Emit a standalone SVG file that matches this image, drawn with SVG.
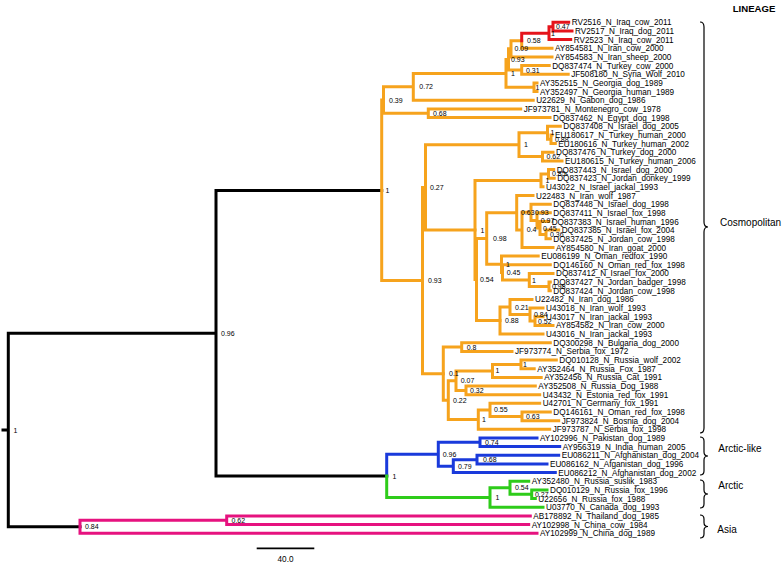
<svg xmlns="http://www.w3.org/2000/svg" width="784" height="566" viewBox="0 0 784 566">
<style>
.t{font-family:"Liberation Sans",Arial,sans-serif;font-size:8.2px;fill:#000}
.s{font-family:"Liberation Sans",Arial,sans-serif;font-size:7px;fill:#000}
.lin{font-family:"Liberation Sans",Arial,sans-serif;font-size:10px;fill:#000}
.hd{font-family:"Liberation Sans",Arial,sans-serif;font-size:9.6px;font-weight:bold;fill:#000}
#connectors path{fill:none;stroke-width:3;stroke-linecap:square}
.k{stroke:#000}.o{stroke:#F6A31D}.r{stroke:#E5141B}.b{stroke:#1A3ADB}.g{stroke:#2ECC1A}.m{stroke:#E6127F}
.br{fill:none;stroke:#000;stroke-width:1.2}
</style>
<rect width="784" height="566" fill="#fff"/>
<g id="connectors">
<path class="k" d="M3,430H8.3M8.3,333.2V526.8M8.3,333.2H216M8.3,526.8H80M216,190.4V476M216,190.4H381.7M216,476H386.7"/>
<path class="m" d="M80,520.3V533.2M80,520.3H226.7M80,533.2H537M226.7,515.9V524.6M226.7,515.9H530.3M226.7,524.6H528.7"/>
<path class="b" d="M386.7,454.3V476M386.7,454.3H438.3M438.3,442.3V466.2M438.3,442.3H480M438.3,466.2H453.3M480,438V446.6M480,438H537M480,446.6H559.7M453.3,459.7V472.6M453.3,459.7H477M453.3,472.6H555.3M477,455.3V464M477,455.3H558.7M477,464H547"/>
<path class="g" d="M386.7,476V497.6M386.7,497.6H490M490,487.8V507.3M490,487.8H510M490,507.3H543M510,481.3V494.3M510,481.3H528.7M510,494.3H531.7M531.7,489.9V498.6M531.7,489.9H547M531.7,498.6H535.3"/>
<path class="o" d="M381.7,100.1V280.6M381.7,100.1H383.5M381.7,280.6H422.5M383.5,86.8V113.3M383.5,86.8H413.3M383.5,113.3H428.3M413.3,73.4V100.2M413.3,73.4H506M413.3,100.2H533.2M428.3,108.9V117.6M428.3,108.9H520.7M428.3,117.6H550M506,59.4V87.3M506,59.4H508.5M506,87.3H534M508.5,48.8V70M508.5,48.8H511M508.5,70H521.7M511,40.7V56.9M511,40.7H521.7M511,56.9H552M521.7,40.7V48.3M521.7,48.3H552M521.7,65.6V74.3M521.7,65.6H549.2M521.7,74.3H568.2M534,82.9V91.6M534,82.9H537M534,91.6H537"/>
<path class="o" d="M422.5,187.4V373.7M422.5,187.4H425.5M422.5,373.7H443.3M425.5,144.7V230M425.5,144.7H519M425.5,230H475M519,132.7V156.6M519,132.7H547.5M519,156.6H542.5M547.5,126.2V139.2M547.5,126.2H560.3M547.5,139.2H551M551,134.9V143.5M551,134.9H552M551,143.5H555.3M542.5,152.2V160.9M542.5,152.2H553M542.5,160.9H562"/>
<path class="o" d="M475,180.4V279.6M475,180.4H541M475,279.6H476.5M541,173.9V186.8M541,173.9H548.5M541,186.8H543M548.5,169.5V178.2M548.5,169.5H553.7M548.5,178.2H554.2M476.5,238.5V320.6M476.5,238.5H486.7M476.5,320.6H500M486.7,212.7V264.3M486.7,212.7H516.7M486.7,264.3H501.5M516.7,195.5V229.9M516.7,195.5H533M516.7,229.9H522M522,212.3V247.5M522,212.3H531M522,247.5H553M531,204.2V220.4M531,204.2H550.3M531,220.4H537M537,212.8V228M537,212.8H550.3M537,228H540M540,221.5V234.5M540,221.5H548.7M540,234.5H546M546,230.1V238.8M546,230.1H558.7M546,238.8H550.3"/>
<path class="o" d="M501.5,256.1V272.4M501.5,256.1H538.2M501.5,272.4H502.5M502.5,264.8V280M502.5,264.8H550.3M502.5,280H529.3M529.3,273.4V286.5M529.3,273.4H553M529.3,286.5H549M549,282.1V290.8M549,282.1H550.3M549,290.8H550.3M500,307V334.1M500,307H510M500,334.1H543M510,299.4V314.6M510,299.4H532M510,314.6H530M530,308.1V321.1M530,308.1H543M530,321.1H535M535,316.7V325.4M535,316.7H543M535,325.4H553"/>
<path class="o" d="M443.3,347.1V400.2M443.3,347.1H461.7M443.3,400.2H448.3M461.7,342.7V351.4M461.7,342.7H550.3M461.7,351.4H512M448.3,380.7V419.6M448.3,380.7H456M448.3,419.6H478.3M456,370.9V390.4M456,370.9H492.5M456,390.4H466M492.5,364.4V377.4M492.5,364.4H521M492.5,377.4H541.2M521,360V368.7M521,360H556.3M521,368.7H534.2M466,386V394.7M466,386H535.3M466,394.7H539.7M478.3,409.9V429.3M478.3,409.9H490M478.3,429.3H549.7M490,403.3V416.4M490,403.3H539.7M490,416.4H522M522,412V420.7M522,412H550.3M522,420.7H558.7"/>
<path class="r" d="M521.7,33.2V40.7M521.7,33.2H549M549,26.7V39.6M549,26.7H553M549,39.6H570.7M553,22.3V31M553,22.3H568.7M553,31H572"/>
</g>
<g id="tips">
<g id="tip01"><text class="t" x="571.7" y="25.3">RV2516_N_Iraq_cow_2011</text></g>
<g id="tip02"><text class="t" x="575" y="34">RV2517_N_Iraq_dog_2011</text></g>
<g id="tip03"><text class="t" x="573.7" y="42.6">RV2523_N_Iraq_cow_2011</text></g>
<g id="tip04"><text class="t" x="555" y="51.3">AY854581_N_Iran_cow_2000</text></g>
<g id="tip05"><text class="t" x="555" y="59.9">AY854583_N_Iran_sheep_2000</text></g>
<g id="tip06"><text class="t" x="552.2" y="68.6">DQ837474_N_Turkey_cow_2000</text></g>
<g id="tip07"><text class="t" x="571.2" y="77.3">JF508180_N_Syria_Wolf_2010</text></g>
<g id="tip08"><text class="t" x="540" y="85.9">AY352515_N_Georgia_dog_1989</text></g>
<g id="tip09"><text class="t" x="540" y="94.6">AY352497_N_Georgia_human_1989</text></g>
<g id="tip10"><text class="t" x="536.2" y="103.2">U22629_N_Gabon_dog_1986</text></g>
<g id="tip11"><text class="t" x="523.7" y="111.9">JF973781_N_Montenegro_cow_1978</text></g>
<g id="tip12"><text class="t" x="553" y="120.6">DQ837462_N_Egypt_dog_1998</text></g>
<g id="tip13"><text class="t" x="563.3" y="129.2">DQ837408_N_Israel_dog_2005</text></g>
<g id="tip14"><text class="t" x="555" y="137.9">EU180617_N_Turkey_human_2000</text></g>
<g id="tip15"><text class="t" x="558.3" y="146.5">EU180616_N_Turkey_human_2002</text></g>
<g id="tip16"><text class="t" x="556" y="155.2">DQ837476_N_Turkey_dog_2000</text></g>
<g id="tip17"><text class="t" x="565" y="163.9">EU180615_N_Turkey_human_2006</text></g>
<g id="tip18"><text class="t" x="556.7" y="172.5">DQ837443_N_Israel_dog_2000</text></g>
<g id="tip19"><text class="t" x="557.2" y="181.2">DQ837423_N_Jordan_donkey_1999</text></g>
<g id="tip20"><text class="t" x="546" y="189.8">U43022_N_Israel_jackal_1993</text></g>
<g id="tip21"><text class="t" x="536" y="198.5">U22483_N_Iran_wolf_1987</text></g>
<g id="tip22"><text class="t" x="553.3" y="207.2">DQ837448_N_Israel_dog_1998</text></g>
<g id="tip23"><text class="t" x="553.3" y="215.8">DQ837411_N_Israel_fox_1998</text></g>
<g id="tip24"><text class="t" x="551.7" y="224.5">DQ837383_N_Israel_human_1996</text></g>
<g id="tip25"><text class="t" x="561.7" y="233.1">DQ837385_N_Israel_fox_2004</text></g>
<g id="tip26"><text class="t" x="553.3" y="241.8">DQ837425_N_Jordan_cow_1998</text></g>
<g id="tip27"><text class="t" x="556" y="250.5">AY854580_N_Iran_goat_2000</text></g>
<g id="tip28"><text class="t" x="541.2" y="259.1">EU086199_N_Oman_redfox_1990</text></g>
<g id="tip29"><text class="t" x="553.3" y="267.8">DQ146160_N_Oman_red_fox_1998</text></g>
<g id="tip30"><text class="t" x="556" y="276.4">DQ837412_N_Israel_fox_2000</text></g>
<g id="tip31"><text class="t" x="553.3" y="285.1">DQ837427_N_Jordan_badger_1998</text></g>
<g id="tip32"><text class="t" x="553.3" y="293.8">DQ837424_N_Jordan_cow_1998</text></g>
<g id="tip33"><text class="t" x="535" y="302.4">U22482_N_Iran_dog_1986</text></g>
<g id="tip34"><text class="t" x="546" y="311.1">U43018_N_Iran_wolf_1993</text></g>
<g id="tip35"><text class="t" x="546" y="319.7">U43017_N_Iran_jackal_1993</text></g>
<g id="tip36"><text class="t" x="556" y="328.4">AY854582_N_Iran_cow_2000</text></g>
<g id="tip37"><text class="t" x="546" y="337.1">U43016_N_Iran_jackal_1993</text></g>
<g id="tip38"><text class="t" x="553.3" y="345.7">DQ300298_N_Bulgaria_dog_2000</text></g>
<g id="tip39"><text class="t" x="515" y="354.4">JF973774_N_Serbia_fox_1972</text></g>
<g id="tip40"><text class="t" x="559.3" y="363">DQ010128_N_Russia_wolf_2002</text></g>
<g id="tip41"><text class="t" x="537.2" y="371.7">AY352464_N_Russia_Fox_1987</text></g>
<g id="tip42"><text class="t" x="544.2" y="380.4">AY352456_N_Russia_Cat_1991</text></g>
<g id="tip43"><text class="t" x="538.3" y="389">AY352508_N_Russia_Dog_1988</text></g>
<g id="tip44"><text class="t" x="542.7" y="397.7">U43432_N_Estonia_red_fox_1991</text></g>
<g id="tip45"><text class="t" x="542.7" y="406.3">U42701_N_Germany_fox_1991</text></g>
<g id="tip46"><text class="t" x="553.3" y="415">DQ146161_N_Oman_red_fox_1998</text></g>
<g id="tip47"><text class="t" x="561.7" y="423.7">JF973824_N_Bosnia_dog_2004</text></g>
<g id="tip48"><text class="t" x="552.7" y="432.3">JF973787_N_Serbia_fox_1998</text></g>
<g id="tip49"><text class="t" x="540" y="441">AY102996_N_Pakistan_dog_1989</text></g>
<g id="tip50"><text class="t" x="562.7" y="449.6">AY956319_N_India_human_2005</text></g>
<g id="tip51"><text class="t" x="561.7" y="458.3">EU086211_N_Afghanistan_dog_2004</text></g>
<g id="tip52"><text class="t" x="550" y="467">EU086162_N_Afganistan_dog_1996</text></g>
<g id="tip53"><text class="t" x="558.3" y="475.6">EU086212_N_Afghanistan_dog_2002</text></g>
<g id="tip54"><text class="t" x="531.7" y="484.3">AY352480_N_Russia_suslik_1983</text></g>
<g id="tip55"><text class="t" x="550" y="492.9">DQ010129_N_Russia_fox_1996</text></g>
<g id="tip56"><text class="t" x="538.3" y="501.6">U22656_N_Russia_fox_1988</text></g>
<g id="tip57"><text class="t" x="546" y="510.3">U03770_N_Canada_dog_1993</text></g>
<g id="tip58"><text class="t" x="533.3" y="518.9">AB178892_N_Thailand_dog_1985</text></g>
<g id="tip59"><text class="t" x="531.7" y="527.6">AY102998_N_China_cow_1984</text></g>
<g id="tip60"><text class="t" x="540" y="536.2">AY102999_N_China_dog_1989</text></g>
</g>
<g id="internal-nodes">
<g id="n-root"><text class="s" x="13.5" y="432.5">1</text></g>
<g id="n-ca"><text class="s" x="221" y="335.7">0.96</text></g>
<g id="n-as"><text class="s" x="85" y="529.3">0.84</text></g>
<g id="n-as2"><text class="s" x="231.5" y="522.8">0.62</text></g>
<g id="n-q"><text class="s" x="385.5" y="192.9">1</text></g>
<g id="n-s"><text class="s" x="389" y="102.6">0.39</text></g>
<g id="n-t"><text class="s" x="419.3" y="89.3">0.72</text></g>
<g id="n-u"><text class="s" x="511" y="75.9">1</text></g>
<g id="n-v"><text class="s" x="511" y="61.9">0.93</text></g>
<g id="n-w"><text class="s" x="514.5" y="51.3">0.09</text></g>
<g id="n-z"><text class="s" x="527" y="43.2">0.58</text></g>
<g id="n-y"><text class="s" x="551" y="35.7">1</text></g>
<g id="n-x"><text class="s" x="556" y="29.2">0.47</text></g>
<g id="n-d"><text class="s" x="526" y="72.5">0.31</text></g>
<g id="n-gn"><text class="s" x="535.5" y="89.8">1</text></g>
<g id="n-r"><text class="s" x="433" y="115.8">0.68</text></g>
<g id="n-p"><text class="s" x="428" y="283.1">0.93</text></g>
<g id="n-o"><text class="s" x="430" y="189.9">0.27</text></g>
<g id="n-m1"><text class="s" x="524" y="147.2">1</text></g>
<g id="n-a1"><text class="s" x="550.5" y="135.2">1</text></g>
<g id="n-a2"><text class="s" x="555" y="141.7">0.88</text></g>
<g id="n-b1"><text class="s" x="546.5" y="159.1">0.62</text></g>
<g id="n-j"><text class="s" x="480.5" y="232.5">1</text></g>
<g id="n-k2"><text class="s" x="545.5" y="182.9">1</text></g>
<g id="n-k1"><text class="s" x="552" y="176.4">0.85</text></g>
<g id="n-g"><text class="s" x="480" y="282.1">0.54</text></g>
<g id="n-f"><text class="s" x="493" y="241">0.98</text></g>
<g id="n-e"><text class="s" x="521" y="215.2">0.63</text></g>
<g id="n-e2"><text class="s" x="526.7" y="232.4">0.4</text></g>
<g id="n-e3"><text class="s" x="535" y="214.8">0.93</text></g>
<g id="n-e4"><text class="s" x="540.7" y="222.9">0.97</text></g>
<g id="n-e5"><text class="s" x="543" y="230.5">0.45</text></g>
<g id="n-e6"><text class="s" x="550" y="237">0.36</text></g>
<g id="n-d1"><text class="s" x="506" y="266.8">1</text></g>
<g id="n-d2"><text class="s" x="506.7" y="274.9">0.45</text></g>
<g id="n-c"><text class="s" x="532" y="282.5">1</text></g>
<g id="n-c2"><text class="s" x="552" y="289">0.98</text></g>
<g id="n-i"><text class="s" x="505" y="323.1">0.88</text></g>
<g id="n-i1"><text class="s" x="515" y="309.5">0.21</text></g>
<g id="n-i2"><text class="s" x="534" y="317.1">0.84</text></g>
<g id="n-i3"><text class="s" x="538" y="323.6">0.52</text></g>
<g id="n-n"><text class="s" x="449" y="376.2">0.1</text></g>
<g id="n-n1"><text class="s" x="466.7" y="349.6">0.8</text></g>
<g id="n-n2"><text class="s" x="453" y="402.7">0.22</text></g>
<g id="n-n3"><text class="s" x="460.7" y="383.2">0.07</text></g>
<g id="n-n5"><text class="s" x="495.5" y="373.4">1</text></g>
<g id="n-n7"><text class="s" x="523" y="366.9">1</text></g>
<g id="n-n6"><text class="s" x="470" y="392.9">0.32</text></g>
<g id="n-n4"><text class="s" x="482" y="422.1">1</text></g>
<g id="n-n8"><text class="s" x="494" y="412.4">0.55</text></g>
<g id="n-n9"><text class="s" x="526" y="418.9">0.63</text></g>
<g id="n-al"><text class="s" x="392.5" y="478.5">1</text></g>
<g id="n-bl"><text class="s" x="442.7" y="456.8">0.96</text></g>
<g id="n-bl1"><text class="s" x="485" y="444.8">0.74</text></g>
<g id="n-bl3"><text class="s" x="458" y="468.7">0.79</text></g>
<g id="n-bl2"><text class="s" x="483" y="462.2">0.68</text></g>
<g id="n-gr"><text class="s" x="495.5" y="500.1">1</text></g>
<g id="n-gr1"><text class="s" x="515" y="490.3">0.54</text></g>
<g id="n-gr2"><text class="s" x="535" y="496.8">0.27</text></g>
</g>
<g id="lineages">
<text class="hd" x="732.7" y="12">LINEAGE</text>
<path class="br" d="M700,22Q704,22 704,27V222Q704,227 708,227Q704,227 704,232V428Q704,433 700,433"/>
<text class="lin" x="720" y="226">Cosmopolitan</text>
<path class="br" d="M700,437Q704,437 704,441V452Q704,456 708,456Q704,456 704,460V471Q704,475 700,475"/>
<text class="lin" x="718.3" y="452">Arctic-like</text>
<path class="br" d="M700,480Q704,480 704,484V490Q704,494 708,494Q704,494 704,498V504Q704,508 700,508"/>
<text class="lin" x="718.3" y="488.6">Arctic</text>
<path class="br" d="M700,515Q704,515 704,519V522.5Q704,526.5 708,526.5Q704,526.5 704,530.5V534Q704,538 700,538"/>
<text class="lin" x="717.3" y="533">Asia</text>
</g>
<g id="scale-bar">
<path d="M256.7,548.3H314.3" stroke="#000" stroke-width="1.7" fill="none"/>
<text class="t" x="285.5" y="562" text-anchor="middle">40.0</text>
</g>
</svg>
